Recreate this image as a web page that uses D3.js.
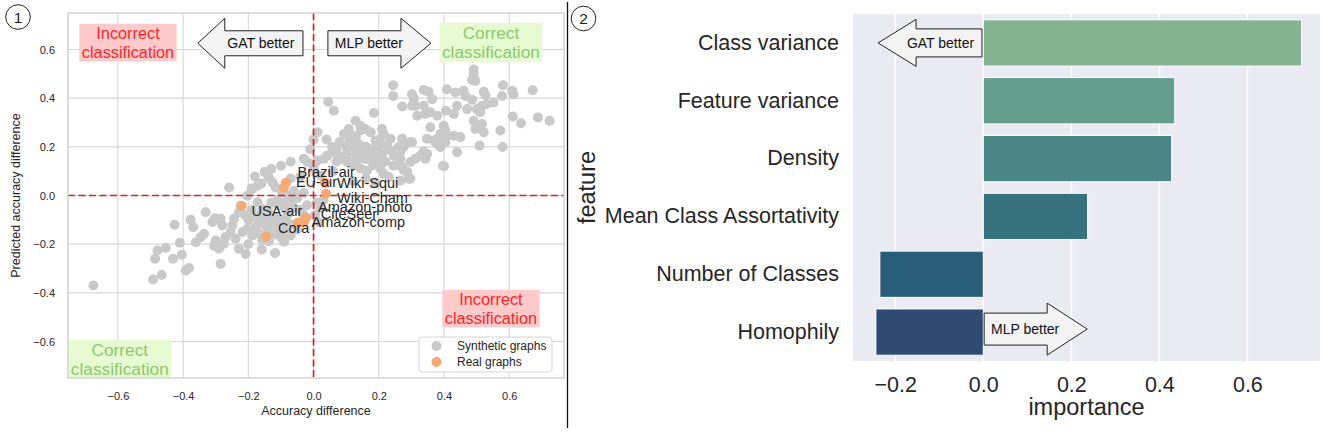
<!DOCTYPE html>
<html>
<head>
<meta charset="utf-8">
<script src="https://cdn.jsdelivr.net/npm/d3@7"></script>
<style>
  body { margin: 0; background: #fff; }
  svg { display: block; font-family: "Liberation Sans", Arial, sans-serif; }
</style>
</head>
<body>
<div id="chart"></div>
<script>
"use strict"

// ---------- panel 1 data : accuracy difference vs predicted ----------
var synthetic_points = [
    [-0.675,-0.37],[-0.492,-0.345],[-0.466,-0.327],[-0.486,-0.26],[-0.479,-0.226],[-0.453,-0.215],
    [-0.431,-0.26],[-0.426,-0.12],[-0.41,-0.194],[-0.404,-0.243],[-0.392,-0.308],[-0.382,-0.298],
    [-0.377,-0.1],[-0.369,-0.13],[-0.361,-0.192],[-0.346,-0.171],[-0.336,-0.157],[-0.331,-0.069],
    [-0.31,-0.109],[-0.302,-0.093],[-0.285,-0.096],[-0.28,-0.123],[-0.305,-0.206],[-0.3,-0.185],
    [-0.29,-0.219],[-0.275,-0.198],[-0.27,-0.171],[-0.285,-0.281],[-0.259,0.033],[-0.254,-0.15],
    [-0.249,-0.123],[-0.244,-0.096],[-0.229,-0.069],[-0.224,-0.042],[-0.229,-0.219],[-0.208,-0.24],
    [-0.239,-0.178],[-0.218,-0.15],[-0.203,-0.137],[-0.188,-0.164],[-0.203,-0.001],[-0.188,0.027],
    [-0.172,0.04],[-0.172,-0.028],[-0.157,-0.055],[-0.147,-0.082],[-0.132,-0.109],[-0.178,-0.13],
    [-0.168,-0.157],[-0.157,-0.184],[-0.159,-0.222],[-0.118,-0.236],[-0.137,-0.188],[-0.149,0.095],
    [-0.137,0.074],[-0.126,0.054],[-0.116,0.033],[-0.106,-0.137],[-0.086,-0.15],[-0.07,-0.164],
    [-0.106,-0.042],[-0.086,-0.055],[-0.096,0.013],[-0.076,-0.001],
    [-0.19,-0.06],[-0.18,-0.09],[-0.165,-0.1],[-0.15,-0.12],[-0.14,-0.14],[-0.12,-0.16],
    [-0.1,-0.17],[-0.12,-0.09],[-0.1,-0.1],[-0.08,-0.11],[-0.06,-0.12],[-0.05,-0.14],
    [-0.13,-0.03],[-0.11,-0.02],[-0.09,-0.03],[-0.07,-0.02],[-0.06,-0.05],[-0.04,-0.06],
    [-0.03,-0.08],[-0.02,-0.04],[-0.05,-0.01],[-0.03,0.01],[-0.06,0.02],[-0.2,-0.1],
    [-0.21,-0.08],[-0.2,-0.2],[-0.09,-0.19],[-0.08,-0.08],[-0.14,-0.06],[-0.16,-0.075],
    [-0.12,-0.12],[-0.1,-0.13],
    [-0.18,0.078],[-0.15,0.098],[-0.13,0.11],[-0.1,0.122],[-0.07,0.139],[-0.03,0.151],
    [-0.01,0.19],[0,0.23],[0.012,0.26],[0.04,0.23],[0.06,0.18],[0.07,0.14],[0.06,0.1],
    [0.09,0.16],[0.11,0.2],[0.12,0.245],[0.144,0.286],[0.175,0.26],[0.144,0.18],[0.196,0.205],
    [0.236,0.233],[0.266,0.18],[0.297,0.22],[0.337,0.18],[0.38,0.233],[0.4,0.12],[0.021,0.082],
    [0,0.11],[-0.04,0.078],[-0.07,0.07],[-0.16,0.049],[-0.19,0.029],
    [0.01,-0.03],[0.02,-0.05],[0.005,-0.08],[0.03,-0.02],[0.015,-0.11],
    [0.266,0.061],[0.245,0.122],[0.12,0.06],[0.16,0.07],[0.19,0.05],
    [0.491,0.518],[0.491,0.498],[0.486,0.475],[0.496,0.471],[0.244,0.453],[0.244,0.409],
    [0.045,0.385],[0.062,0.348],[0.302,0.416],[0.307,0.399],[0.302,0.369],[0.272,0.366],
    [0.338,0.434],[0.353,0.426],[0.364,0.396],[0.409,0.437],[0.435,0.423],[0.46,0.43],
    [0.466,0.409],[0.486,0.393],[0.522,0.426],[0.527,0.412],[0.552,0.382],[0.578,0.409],
    [0.581,0.453],[0.609,0.43],[0.613,0.416],[0.672,0.433],[0.688,0.321],[0.724,0.307],
    [0.611,0.325],[0.636,0.297],[0.573,0.267],[0.58,0.199],[0.509,0.205],[0.44,0.178],
    [0.397,0.121],[0.491,0.307],[0.501,0.287],[0.517,0.294],[0.522,0.26],[0.496,0.273],
    [0.501,0.355],[0.517,0.369],[0.532,0.376],[0.511,0.342],[0.471,0.355],[0.44,0.369],
    [0.43,0.335],[0.406,0.348],[0.379,0.328],[0.358,0.342],[0.343,0.335],[0.318,0.328],
    [0.312,0.369],[0.338,0.369],[0.358,0.28],[0.399,0.287],[0.404,0.267],[0.389,0.253],
    [0.409,0.246],[0.43,0.246],[0.45,0.24],[0.348,0.233],[0.368,0.226],[0.379,0.212],
    [0.389,0.199],[0.404,0.219],[0.348,0.171],[0.343,0.151],[0.328,0.164],[0.312,0.151],
    [0.297,0.138],[0.302,0.219],[0.272,0.233],[0.277,0.199],[0.261,0.199],[0.256,0.171],
    [0.266,0.151],[0.246,0.164],[0.236,0.185],[0.226,0.205],[0.297,0.069],[0.287,0.097],
    [0.272,0.117],[0.256,0.124],[0.185,0.339],[0.21,0.273],[0.215,0.253],[0.205,0.233],
    [0.19,0.226],[0.175,0.26],[0.159,0.273],[0.144,0.267],[0.129,0.307],[0.108,0.273],
    [0.113,0.24],[0.093,0.253],
    [0.12,0.2],[0.14,0.21],[0.16,0.2],[0.18,0.19],[0.2,0.2],[0.13,0.17],[0.15,0.18],
    [0.17,0.17],[0.19,0.16],[0.21,0.17],[0.22,0.14],[0.2,0.13],[0.18,0.14],[0.16,0.15],
    [0.14,0.15],[0.12,0.14],[0.1,0.17],[0.1,0.2],[0.08,0.22],[0.11,0.23],[0.13,0.24],[0.07,0.19],
    [0.057,0.199],[0.062,0.178],[0.042,0.164],[0.032,0.151],[0.011,0.144],[0.001,0.124],
    [-0.019,0.138],[0.083,0.151],[0.103,0.138],[0.123,0.124],[0.144,0.11],[0.164,0.103],
    [0.185,0.124],[0.205,0.11],[0.215,0.09],[0.231,0.076],[0.277,0.103],[0.292,0.069]
]

var real_names   = ["Brazil-air", "EU-air", "Wiki-Squi", "Wiki-Cham", "USA-air", "Amazon-photo", "CiteSeer", "Amazon-comp", "Cora"]
var real_x       = [-0.085, -0.091, 0.035, 0.038, -0.22, -0.023, -0.029, -0.048, -0.146]
var real_y       = [0.052, 0.032, 0.052, 0.007, -0.042, -0.092, -0.108, -0.112, -0.169]
// where each name was written (data units, left / baseline)
var real_label_x = [-0.049, -0.054, 0.072, 0.072, -0.19, 0.014, 0.022, -0.006, -0.109]
var real_label_y = [0.078, 0.033, 0.031, -0.031, -0.086, -0.066, -0.096, -0.130, -0.154]

var ticks_1 = [-0.6, -0.4, -0.2, 0.0, 0.2, 0.4, 0.6]
var legend_names = ["Synthetic graphs", "Real graphs"]

// ---------- panel 2 data : feature importance ----------
var features   = ["Class variance", "Feature variance", "Density", "Mean Class Assortativity", "Number of Classes", "Homophily"]
var importance = [0.723, 0.435, 0.428, 0.237, -0.235, -0.244]
var ticks_2    = [-0.2, 0.0, 0.2, 0.4, 0.6]


var settings = {
    width: 1325,
    height: 435,
    font: "'Liberation Sans', Arial, sans-serif",
    ink: "#262626"
}

var svg = d3.select("#chart").append("svg")
    .attr("width", settings.width)
    .attr("height", settings.height)

var fmt = d3.format(".1f")


// draws a box arrow (like matplotlib's rarrow bbox) from tail to tip
function draw_arrow(g, tail, tip, cy, body_h, head_h, head_len, label) {
    var dir = tip < tail ? -1 : 1
    var base = tip - dir * head_len
    var pts = [
        [tail, cy - body_h], [base, cy - body_h], [base, cy - head_h], [tip, cy],
        [base, cy + head_h], [base, cy + body_h], [tail, cy + body_h]
    ]
    g.append("path")
        .attr("d", d3.line()(pts) + "Z")
        .attr("fill", "#f3f3f3")
        .attr("stroke", "#222")
        .attr("stroke-width", 1)
    g.append("text")
        .attr("x", (tail + tip) / 2 - dir * 10.5)
        .attr("y", cy + 5)
        .attr("text-anchor", "middle")
        .attr("font-size", 14)
        .attr("fill", "#111")
        .text(label)
}


/**
 panel 1 : scatter
*/
var p1 = { left: 68, right: 564, top: 13, bottom: 378 }

var x1 = d3.scaleLinear().domain([-0.753, 0.768]).range([p1.left, p1.right])
var y1 = d3.scaleLinear().domain([-0.75, 0.75]).range([p1.bottom, p1.top])

svg.append("defs").append("clipPath").attr("id", "clip1")
    .append("rect")
    .attr("x", p1.left).attr("y", p1.top)
    .attr("width", p1.right - p1.left).attr("height", p1.bottom - p1.top)

var g1 = svg.append("g")

// grid
g1.append("g").selectAll("line").data(ticks_1).enter().append("line")
    .attr("x1", function (d) { return x1(d) })
    .attr("x2", function (d) { return x1(d) })
    .attr("y1", p1.top).attr("y2", p1.bottom)
    .attr("stroke", "#d6d6d6").attr("stroke-width", 1.1)
g1.append("g").selectAll("line").data(ticks_1).enter().append("line")
    .attr("y1", function (d) { return y1(d) })
    .attr("y2", function (d) { return y1(d) })
    .attr("x1", p1.left).attr("x2", p1.right)
    .attr("stroke", "#d6d6d6").attr("stroke-width", 1.1)

var plot1 = g1.append("g").attr("clip-path", "url(#clip1)")

plot1.append("g").selectAll("circle").data(synthetic_points).enter().append("circle")
    .attr("cx", function (d) { return x1(d[0]) })
    .attr("cy", function (d) { return y1(d[1]) })
    .attr("r", 5)
    .attr("fill", "#c9c9c9")

// zero lines
plot1.append("line")
    .attr("x1", x1(0)).attr("x2", x1(0)).attr("y1", p1.top).attr("y2", p1.bottom)
    .attr("stroke", "#c8282e").attr("stroke-width", 1.7).attr("stroke-dasharray", "7,3.5")
plot1.append("line")
    .attr("y1", y1(0)).attr("y2", y1(0)).attr("x1", p1.left).attr("x2", p1.right)
    .attr("stroke", "#c8282e").attr("stroke-width", 1.7).attr("stroke-dasharray", "7,3.5")

plot1.append("g").selectAll("circle").data(real_names).enter().append("circle")
    .attr("cx", function (d, i) { return x1(real_x[i]) })
    .attr("cy", function (d, i) { return y1(real_y[i]) })
    .attr("r", 5)
    .attr("fill", "#f7a873")

plot1.append("g").selectAll("text").data(real_names).enter().append("text")
    .attr("x", function (d, i) { return x1(real_label_x[i]) })
    .attr("y", function (d, i) { return y1(real_label_y[i]) })
    .attr("font-size", 14.5)
    .attr("fill", settings.ink)
    .text(function (d) { return d })

// quadrant notes
var notes = [
    { lines: ["Incorrect", "classification"], x: -0.569, y: 0.644, size: 16.3, fg: "#ff2626", bg: "#ffcaca" },
    { lines: ["Correct", "classification"], x: 0.544, y: 0.644, size: 17.3, fg: "#8cc86c", bg: "#e6fbd2" },
    { lines: ["Correct", "classification"], x: -0.594, y: -0.659, size: 17.3, fg: "#8cc86c", bg: "#e6fbd2" },
    { lines: ["Incorrect", "classification"], x: 0.544, y: -0.449, size: 16.3, fg: "#ff2626", bg: "#ffcaca" }
]
notes.forEach(function (n) {
    var ng = plot1.append("g")
    var rect = ng.append("rect").attr("fill", n.bg)
    var t = ng.append("text")
        .attr("text-anchor", "middle")
        .attr("font-size", n.size)
        .attr("fill", n.fg)
    n.lines.forEach(function (l, i) {
        t.append("tspan").attr("x", x1(n.x)).attr("y", y1(n.y) + i * 19.5).text(l)
    })
    var bb = t.node().getBBox()
    rect.attr("x", bb.x - 2.5).attr("y", bb.y).attr("width", bb.width + 5).attr("height", bb.height)
})

// arrows
draw_arrow(g1, x1(-0.0325), x1(-0.355), y1(0.6256), 12.5, 25, 27, "GAT better")
draw_arrow(g1, x1(0.044), x1(0.36), y1(0.6256), 12.5, 25, 30, "MLP better")

// spines
g1.append("rect")
    .attr("x", p1.left).attr("y", p1.top)
    .attr("width", p1.right - p1.left).attr("height", p1.bottom - p1.top)
    .attr("fill", "none").attr("stroke", "#cccccc").attr("stroke-width", 1.3)

// axes
var xaxis1 = d3.axisBottom(x1).tickValues(ticks_1).tickFormat(fmt).tickSize(0).tickPadding(14)
var yaxis1 = d3.axisLeft(y1).tickValues(ticks_1).tickFormat(fmt).tickSize(0).tickPadding(13)

g1.append("g")
    .attr("transform", "translate(0," + p1.bottom + ")")
    .call(xaxis1)
    .attr("font-family", null).attr("font-size", 11)
    .call(function (a) { a.select(".domain").remove() })
    .selectAll("text").attr("fill", settings.ink)
g1.append("g")
    .attr("transform", "translate(" + p1.left + ",0)")
    .call(yaxis1)
    .attr("font-family", null).attr("font-size", 11)
    .call(function (a) { a.select(".domain").remove() })
    .selectAll("text").attr("fill", settings.ink)

g1.append("text")
    .attr("x", (p1.left + p1.right) / 2).attr("y", 415)
    .attr("text-anchor", "middle").attr("font-size", 12.5).attr("fill", settings.ink)
    .text("Accuracy difference")
g1.append("text")
    .attr("transform", "translate(20," + (p1.top + p1.bottom) / 2 + ") rotate(-90)")
    .attr("text-anchor", "middle").attr("font-size", 12.5).attr("fill", settings.ink)
    .text("Predicted accuracy difference")

// legend
var legend = g1.append("g")
legend.append("rect")
    .attr("x", 419).attr("y", 337).attr("width", 133).attr("height", 35).attr("rx", 3)
    .attr("fill", "#fff").attr("fill-opacity", 0.85)
    .attr("stroke", "#d4d4d4").attr("stroke-width", 1)
legend.selectAll("circle").data(legend_names).enter().append("circle")
    .attr("cx", 436.5)
    .attr("cy", function (d, i) { return 346 + i * 16 })
    .attr("r", 5)
    .attr("fill", function (d, i) { return i == 0 ? "#c9c9c9" : "#f7a873" })
legend.selectAll("text").data(legend_names).enter().append("text")
    .attr("x", 457)
    .attr("y", function (d, i) { return 350 + i * 16 })
    .attr("font-size", 12).attr("fill", settings.ink)
    .text(function (d) { return d })


/**
 panel 2 : feature importance bars
*/
var p2 = { left: 853, right: 1320, top: 14, bottom: 361 }

var x2 = d3.scaleLinear().domain([-0.296, 0.765]).range([p2.left, p2.right])
var y2 = d3.scaleBand().domain(features).range([p2.top, p2.bottom]).paddingInner(0.2).paddingOuter(0.1)
var bar_color = d3.scaleOrdinal().domain(features)
    .range(["#85b493", "#639e8d", "#4a8686", "#36717e", "#295e7a", "#2f4b72"])

var g2 = svg.append("g")

g2.append("rect")
    .attr("x", p2.left).attr("y", p2.top)
    .attr("width", p2.right - p2.left).attr("height", p2.bottom - p2.top)
    .attr("fill", "#eaeaf2")

g2.append("g").selectAll("line").data(ticks_2).enter().append("line")
    .attr("x1", function (d) { return x2(d) })
    .attr("x2", function (d) { return x2(d) })
    .attr("y1", p2.top).attr("y2", p2.bottom)
    .attr("stroke", "#fff").attr("stroke-width", 1.6)

g2.append("g").selectAll("rect").data(features).enter().append("rect")
    .attr("x", function (d, i) { return x2(Math.min(0, importance[i])) })
    .attr("width", function (d, i) { return Math.abs(x2(importance[i]) - x2(0)) })
    .attr("y", function (d) { return y2(d) })
    .attr("height", y2.bandwidth())
    .attr("fill", function (d) { return bar_color(d) })
    .attr("stroke", "#fff").attr("stroke-width", 1)

var row0 = y2(features[0]) + y2.bandwidth() / 2
var row5 = y2(features[5]) + y2.bandwidth() / 2
draw_arrow(g2, x2(-0.003), x2(-0.239), row0, 14, 23.5, 38, "GAT better")
draw_arrow(g2, x2(0.002), x2(0.236), row5 - 3, 16, 26, 40, "MLP better")

var xaxis2 = d3.axisBottom(x2).tickValues(ticks_2).tickFormat(fmt).tickSize(0).tickPadding(15.5)
var yaxis2 = d3.axisLeft(y2).tickSize(0).tickPadding(14)

g2.append("g")
    .attr("transform", "translate(0," + p2.bottom + ")")
    .call(xaxis2)
    .attr("font-family", null).attr("font-size", 21.5)
    .call(function (a) { a.select(".domain").remove() })
    .selectAll("text").attr("fill", settings.ink)
g2.append("g")
    .attr("transform", "translate(" + p2.left + ",0)")
    .call(yaxis2)
    .attr("font-family", null).attr("font-size", 21.5)
    .call(function (a) { a.select(".domain").remove() })
    .selectAll("text").attr("fill", settings.ink)

g2.append("text")
    .attr("x", (p2.left + p2.right) / 2).attr("y", 415)
    .attr("text-anchor", "middle").attr("font-size", 23.5).attr("fill", settings.ink)
    .text("importance")
g2.append("text")
    .attr("transform", "translate(595," + (p2.top + p2.bottom) / 2 + ") rotate(-90)")
    .attr("text-anchor", "middle").attr("font-size", 23.5).attr("fill", settings.ink)
    .text("feature")


// panel numbers and divider
var marks = [{ n: "1", cx: 18, cy: 17 }, { n: "2", cx: 583.5, cy: 18.5 }]
svg.selectAll("circle.mark").data(marks).enter().append("circle")
    .attr("class", "mark")
    .attr("cx", function (d) { return d.cx }).attr("cy", function (d) { return d.cy })
    .attr("r", 12.3).attr("fill", "none").attr("stroke", "#222").attr("stroke-width", 1)
svg.selectAll("text.mark").data(marks).enter().append("text")
    .attr("class", "mark")
    .attr("x", function (d) { return d.cx }).attr("y", function (d) { return d.cy + 5.5 })
    .attr("text-anchor", "middle").attr("font-size", 15.5).attr("fill", "#222")
    .text(function (d) { return d.n })

svg.append("line")
    .attr("x1", 567.5).attr("x2", 567.5).attr("y1", 2).attr("y2", 428)
    .attr("stroke", "#111").attr("stroke-width", 1.3)
</script>
</body>
</html>
